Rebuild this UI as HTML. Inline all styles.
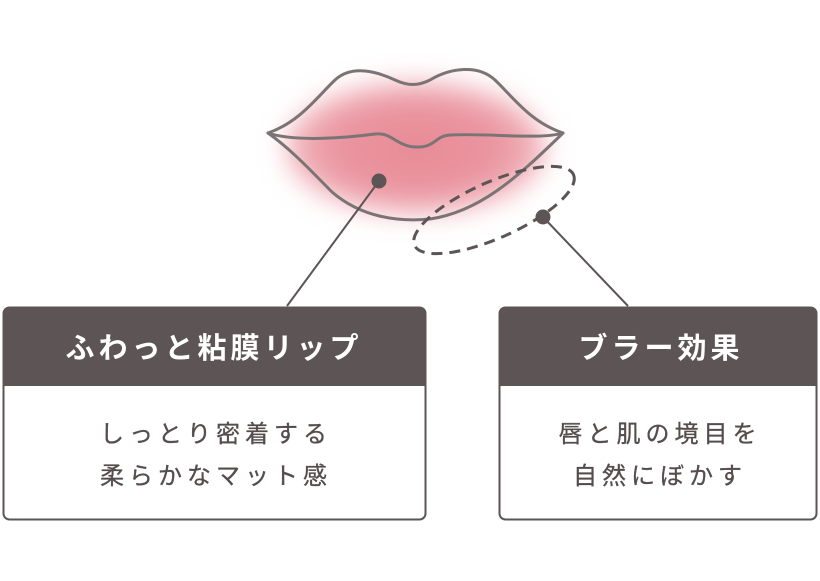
<!DOCTYPE html>
<html><head><meta charset="utf-8"><style>
html,body{margin:0;padding:0;background:#fff;}
body{width:820px;height:576px;overflow:hidden;}
</style></head><body>
<svg width="820" height="576" viewBox="0 0 820 576" xmlns="http://www.w3.org/2000/svg">
<defs>
<filter id="bl" x="-50%" y="-50%" width="200%" height="200%"><feGaussianBlur stdDeviation="13"/></filter>
<radialGradient id="rg" cx="0.5" cy="0.5" r="0.5">
<stop offset="0" stop-color="#e78b96"/><stop offset="0.65" stop-color="#ea95a0"/><stop offset="1" stop-color="#f2bac1"/>
</radialGradient>
</defs>
<ellipse cx="416" cy="148" rx="130" ry="66" fill="url(#rg)" filter="url(#bl)"/>
<g fill="none" stroke="#7b7474" stroke-width="3" stroke-linejoin="round" stroke-linecap="round">
<path d="M268,133 C300,122 318,96 335,80 C352,64 378,72 395,80 C408,86 418,86 430,80 C450,68 478,64 495,80 C512,96 530,122 563,133"/>
<path d="M268,133 C295,142 345,138 375,134 C392,132 396,146 415,147 C436,148 434,136 450,135 C490,133 540,140 563,133"/>
<path d="M268,133 C292,150 312,172 332,192 C362,218 400,222 430,219 C478,212 515,180 563,133"/>
</g>
<ellipse cx="494" cy="210" rx="87" ry="28" transform="rotate(-24 494 210)" fill="none" stroke="#5d5555" stroke-width="3" stroke-dasharray="11 7"/>
<g stroke="#5d5555" stroke-width="2">
<line x1="379" y1="181" x2="287" y2="306"/>
<line x1="543" y1="217" x2="628" y2="306"/>
</g>
<circle cx="379" cy="181" r="7.5" fill="#5d5555"/>
<circle cx="543" cy="217" r="7.5" fill="#5d5555"/>
<g>
<rect x="3.5" y="307.5" width="422" height="212" rx="6" fill="#fff" stroke="#5d5555" stroke-width="2"/>
<path d="M3.5,386 V313.5 a6,6 0 0 1 6,-6 H419.5 a6,6 0 0 1 6,6 V386 Z" fill="#5d5555"/>
<rect x="499.5" y="307.5" width="317" height="212" rx="6" fill="#fff" stroke="#5d5555" stroke-width="2"/>
<path d="M499.5,386 V313.5 a6,6 0 0 1 6,-6 H810.5 a6,6 0 0 1 6,6 V386 Z" fill="#5d5555"/>
</g>
<g font-family="'Liberation Sans','Noto Sans CJK JP',sans-serif" text-anchor="middle">
<text x="214" y="358" font-size="29" font-weight="bold" fill="#fff" letter-spacing="4">ふわっと粘膜リップ</text>
<text x="661" y="358" font-size="29" font-weight="bold" fill="#fff" letter-spacing="4">ブラー効果</text>
<g font-size="24" fill="#554d4d" letter-spacing="5" stroke="#554d4d" stroke-width="0.3">
<text x="216" y="442">しっとり密着する</text>
<text x="216" y="484">柔らかなマット感</text>
<text x="660" y="442">唇と肌の境目を</text>
<text x="660" y="484">自然にぼかす</text>
</g>
</g>
</svg>
</body></html>
